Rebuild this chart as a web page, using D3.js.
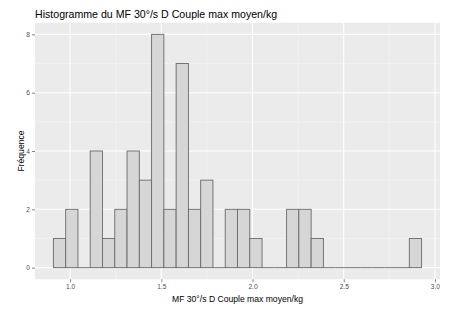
<!doctype html>
<html>
<head>
<meta charset="utf-8">
<script src="https://d3js.org/d3.v7.min.js"></script>
<style>
  body { margin: 0; background: #fff; }
  text { font-family: 'Liberation Sans', Arial, sans-serif; }
</style>
</head>
<body>
<svg id="chart" width="451" height="309"></svg>
<script>
  // histogram bins (30 bins, ggplot style)
  var binStart = 0.9087;
  var binWidth = 0.06727;
  var counts = [1,2,0,4,1,2,4,3,8,2,7,2,3,0,2,2,1,0,0,2,2,1,0,0,0,0,0,0,0,1];
  var xTicks = [1.0, 1.5, 2.0, 2.5, 3.0];
  var xTickLabels = ["1.0", "1.5", "2.0", "2.5", "3.0"];
  var yTicks = [0, 2, 4, 6, 8];
  var xMinor = [1.25, 1.75, 2.25, 2.75];
  var yMinor = [1, 3, 5, 7];

  var title = "Histogramme du MF 30°/s D Couple max moyen/kg";
  var xTitle = "MF 30°/s D Couple max moyen/kg";
  var yTitle = "Fréquence";

  var svg = d3.select("#chart");
  var pLeft = 35, pRight = 440, pTop = 22.7, pBottom = 279.3;

  var bins = counts.map(function(c, i) {
    return {x0: binStart + i * binWidth, x1: binStart + (i + 1) * binWidth, n: c};
  });
  var lo = bins[0].x0, hi = bins[bins.length - 1].x1;
  var pad = (hi - lo) * 0.05;
  var x = d3.scaleLinear().domain([lo - pad, hi + pad]).range([pLeft, pRight]);
  var ymax = d3.max(counts);
  var y = d3.scaleLinear().domain([-ymax * 0.05, ymax * 1.05]).range([pBottom, pTop]);

  // panel
  svg.append("rect").attr("x", pLeft).attr("y", pTop)
    .attr("width", pRight - pLeft).attr("height", pBottom - pTop).attr("fill", "#EBEBEB");

  svg.selectAll(".minx").data(xMinor).enter().append("line")
    .attr("x1", d => x(d)).attr("x2", d => x(d)).attr("y1", pTop).attr("y2", pBottom)
    .attr("stroke", "#F5F5F5").attr("stroke-width", 0.6);
  svg.selectAll(".miny").data(yMinor).enter().append("line")
    .attr("y1", d => y(d)).attr("y2", d => y(d)).attr("x1", pLeft).attr("x2", pRight)
    .attr("stroke", "#F5F5F5").attr("stroke-width", 0.6);
  svg.selectAll(".majx").data(xTicks).enter().append("line")
    .attr("x1", d => x(d)).attr("x2", d => x(d)).attr("y1", pTop).attr("y2", pBottom)
    .attr("stroke", "#fff").attr("stroke-width", 1.1);
  svg.selectAll(".majy").data(yTicks).enter().append("line")
    .attr("y1", d => y(d)).attr("y2", d => y(d)).attr("x1", pLeft).attr("x2", pRight)
    .attr("stroke", "#fff").attr("stroke-width", 1.1);

  // bars (empty bins still show their outline on the baseline)
  svg.selectAll(".bar").data(bins.filter(d => d.n > 0)).enter().append("rect")
    .attr("x", d => x(d.x0)).attr("width", d => x(d.x1) - x(d.x0))
    .attr("y", d => y(d.n)).attr("height", d => y(0) - y(d.n))
    .attr("fill", "#D6D6D6").attr("stroke", "#6a6a6a").attr("stroke-width", 0.9);
  svg.selectAll(".empty").data(bins.filter(d => d.n === 0)).enter().append("line")
    .attr("x1", d => x(d.x0)).attr("x2", d => x(d.x1))
    .attr("y1", y(0)).attr("y2", y(0))
    .attr("stroke", "#6a6a6a").attr("stroke-width", 0.9);

  // axes
  var xAxis = svg.append("g").attr("transform", "translate(0," + pBottom + ")")
    .call(d3.axisBottom(x).tickValues(xTicks).tickSize(3).tickPadding(2)
      .tickFormat((d, i) => xTickLabels[i]));
  var yAxis = svg.append("g").attr("transform", "translate(" + pLeft + ",0)")
    .call(d3.axisLeft(y).tickValues(yTicks).tickSize(3).tickPadding(2));
  [xAxis, yAxis].forEach(function(g) {
    g.select(".domain").remove();
    g.selectAll(".tick line").attr("stroke", "#333").attr("stroke-width", 0.6);
    g.selectAll(".tick text").attr("fill", "#4D4D4D").style("font-size", "6.6px")
      .style("font-family", "'Liberation Sans', Arial, sans-serif");
  });

  svg.append("text").attr("x", pLeft).attr("y", 18)
    .style("font-size", "10.6px").attr("fill", "#000").text(title);
  svg.append("text").attr("x", (pLeft + pRight) / 2).attr("y", 302)
    .attr("text-anchor", "middle").style("font-size", "8.6px").attr("fill", "#000").text(xTitle);
  svg.append("text").attr("transform", "translate(24," + ((pTop + pBottom) / 2) + ") rotate(-90)")
    .attr("text-anchor", "middle").style("font-size", "8.6px").attr("fill", "#000").text(yTitle);
</script>
</body>
</html>
